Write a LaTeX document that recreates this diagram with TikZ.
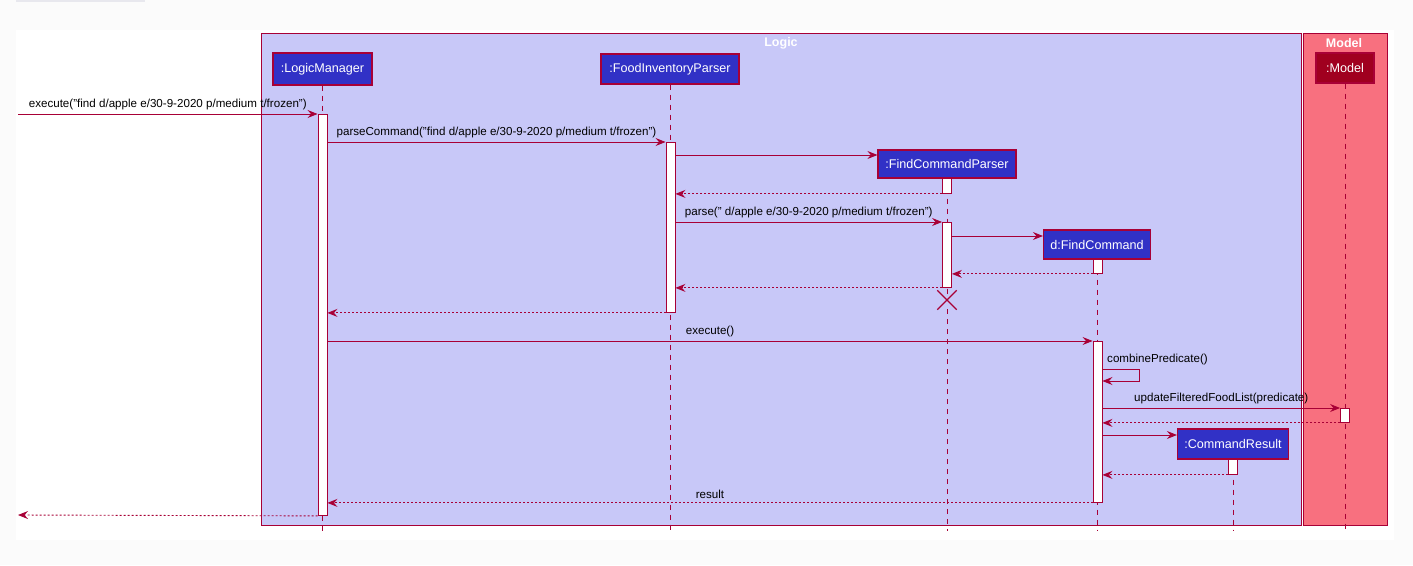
\documentclass[tikz,border=0pt]{standalone}
\usepackage{fontspec}
\setmainfont{Liberation Sans}
\usetikzlibrary{arrows.meta,shapes.misc}
\definecolor{crim}{HTML}{A80036}
\definecolor{logicbg}{HTML}{C8C8F8}
\definecolor{modelbg}{HTML}{F8707F}
\definecolor{partblue}{HTML}{3131C6}
\definecolor{partred}{HTML}{A0001F}
\definecolor{pagebg}{HTML}{FBFBFB}
\definecolor{stripgray}{HTML}{E8E8EE}

\begin{document}
\begin{tikzpicture}[x=1pt,y=-1pt,>={Stealth[length=10pt,width=8pt,inset=3.5pt]},
  participant/.style={draw=crim,line width=1.2pt,fill=partblue,text=white,
    font=\fontsize{12.6}{14}\selectfont,inner sep=0pt,minimum height=30pt},
  actbar/.style={draw=crim,fill=white,line width=0.9pt,minimum width=9pt,inner sep=0pt,anchor=north},
  lifeline/.style={crim,line width=0.9pt,dash pattern=on 5pt off 5pt},
  call/.style={->,crim,line width=0.9pt},
  reply/.style={->,crim,line width=0.9pt,dash pattern=on 2pt off 2pt},
  txt/.style={text=black,inner sep=0pt,font=\fontsize{11.6}{13}\selectfont},
  lab/.style={txt,midway,above=4pt},
  grouptitle/.style={text=white,font=\fontsize{12.5}{14}\selectfont\bfseries}]
  % Bakgrunn
  \useasboundingbox (0,0) rectangle (1413,565);
  \fill[pagebg] (0,0) rectangle (1413,565);
  \fill[stripgray] (16,0) rectangle (145,2);
  \fill[white] (16,30) rectangle (1394,540);
  % Grupper
  \draw[crim,line width=1pt,fill=logicbg] (261,33) rectangle (1301,525);
  \draw[crim,line width=1pt,fill=modelbg] (1303,33) rectangle (1387,525);
  \node[grouptitle] (logictitle) at (781,43) {Logic};
  \node[grouptitle] (modeltitle) at (1344,43) {Model};
  % Deltakere
  \node[participant,minimum width=99pt,minimum height=32pt] (lm) at (322.5,69) {:LogicManager};
  \node[participant,minimum width=138pt] (fip) at (670,69) {:FoodInventoryParser};
  \node[participant,minimum width=138pt,minimum height=28pt] (fcp) at (947,164) {:FindCommandParser};
  \node[participant,minimum width=107pt,minimum height=29pt] (fc) at (1097,244.5) {d:FindCommand};
  \node[participant,minimum width=111pt] (cr) at (1233,444) {:CommandResult};
  \node[participant,minimum width=58pt,fill=partred] (mdl) at (1345,68) {:Model};
  % Livslinjer
  \coordinate (bunn) at (0,531);
  \foreach \p in {lm,fip,fc,cr,mdl}
    \draw[lifeline] (\p.south) -- (\p.south |- bunn);
  \draw[lifeline] (fcp.south) -- (fcp.south |- 0,300);
  \draw[lifeline] (fcp.south |- 0,309) -- (fcp.south |- bunn);
  % Aktiveringer
  \node[actbar,minimum height=401pt] (lmA) at (322.5,114) {};
  \node[actbar,minimum height=170pt] (fipA) at (670.5,142) {};
  \node[actbar,minimum height=15pt] (fcpA1) at (947,178) {};
  \node[actbar,minimum height=65pt] (fcpA2) at (947,222) {};
  \node[actbar,minimum height=14pt] (fcA1) at (1097.5,259) {};
  \node[actbar,minimum height=161pt] (fcA2) at (1097.5,341) {};
  \node[actbar,minimum height=14pt] (mdlA) at (1345,408) {};
  \node[actbar,minimum height=15pt] (crA) at (1233,459) {};
  \node[cross out,draw=crim,line width=1.3pt,minimum size=18pt,inner sep=0pt] (slett) at (947,300) {};
  % Meldinger
  \coordinate (inn) at (18,114);
  \coordinate (ut) at (18,515);
  \draw[call] (inn) -- (lmA.north west)
    node[lab] {execute("find d/apple e/30-9-2020 p/medium t/frozen")};
  \draw[call] (lmA.east |- fipA.north) -- (fipA.north west)
    node[lab] {parseCommand("find d/apple e/30-9-2020 p/medium t/frozen")};
  \coordinate (r3) at (0,155);
  \draw[call] (fipA.east |- r3) -- (fcp.west |- r3);
  \draw[reply] (fcpA1.south west) -- (fipA.east |- fcpA1.south);
  \draw[call] (fipA.east |- fcpA2.north) -- (fcpA2.north west)
    node[lab] {parse(" d/apple e/30-9-2020 p/medium t/frozen")};
  \coordinate (r6) at (0,236);
  \draw[call] (fcpA2.east |- r6) -- (fc.west |- r6);
  \draw[reply] (fcA1.south west) -- (fcpA2.east |- fcA1.south);
  \draw[reply] (fcpA2.south west) -- (fipA.east |- fcpA2.south);
  \draw[reply] (fipA.south west) -- (lmA.east |- fipA.south);
  \draw[call] (lmA.east |- fcA2.north) -- (fcA2.north west)
    node[lab] {execute()};
  \coordinate (r12) at (0,369);
  \draw[call] (fcA2.east |- r12) -- ++(37,0) |- (fcA2.east |- 0,381);
  \node[txt,anchor=south west] (kombiner) at (1107,365) {combinePredicate()};
  \draw[call] (fcA2.east |- mdlA.north) -- (mdlA.north west)
    node[lab] {updateFilteredFoodList(predicate)};
  \draw[reply] (mdlA.south west) -- (fcA2.east |- mdlA.south);
  \coordinate (r15) at (0,435);
  \draw[call] (fcA2.east |- r15) -- (cr.west |- r15);
  \draw[reply] (crA.south west) -- (fcA2.east |- crA.south);
  \draw[reply] (fcA2.south west) -- (lmA.east |- fcA2.south)
    node[lab] {result};
  \draw[reply] (lmA.south west) -- (ut);
\end{tikzpicture}
\end{document}
